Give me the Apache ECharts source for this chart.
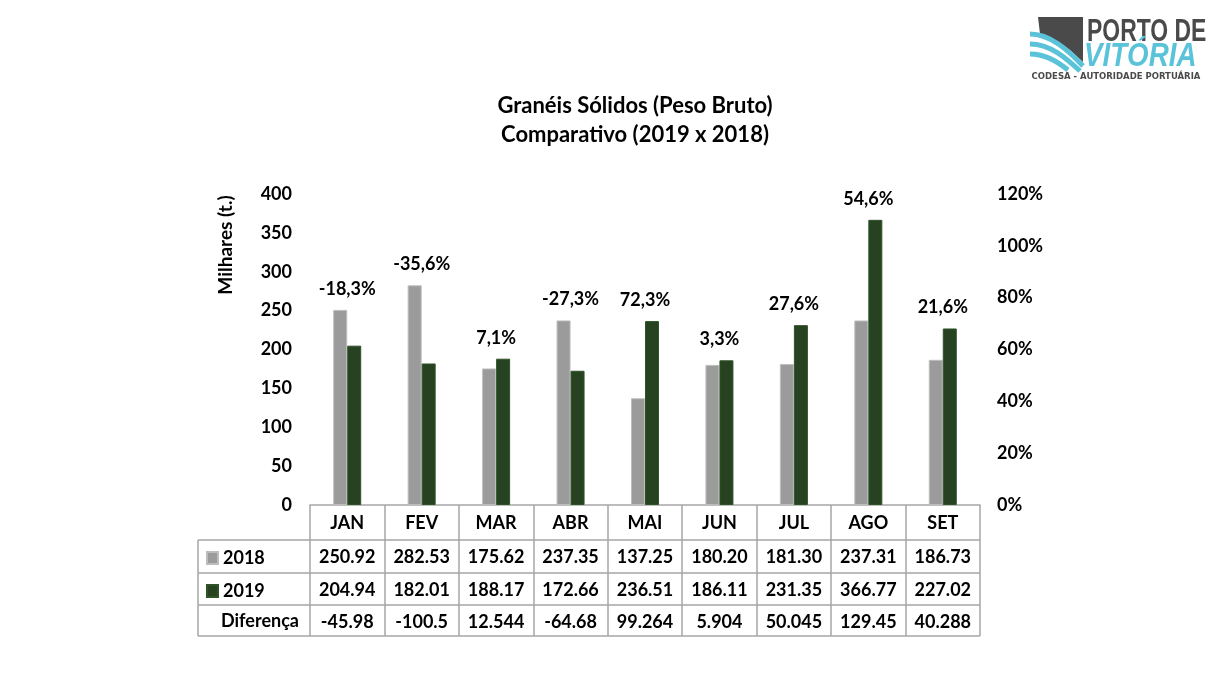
<!DOCTYPE html>
<html>
<head>
<meta charset="utf-8">
<script src="https://cdn.jsdelivr.net/npm/echarts@6/dist/echarts.min.js"></script>
<style>
html, body { margin: 0; padding: 0; background: #fff; }
#chart { width: 1222px; height: 689px; }
</style>
</head>
<body>
<div id="chart"></div>
<script>
var meses = ['JAN', 'FEV', 'MAR', 'ABR', 'MAI', 'JUN', 'JUL', 'AGO', 'SET'];
var v2018 = [250.92, 282.53, 175.62, 237.35, 137.25, 180.20, 181.30, 237.31, 186.73];
var v2019 = [204.94, 182.01, 188.17, 172.66, 236.51, 186.11, 231.35, 366.77, 227.02];
var diferenca = ['-45.98', '-100.5', '12.544', '-64.68', '99.264', '5.904', '50.045', '129.45', '40.288'];
var variacao = [-18.3, -35.6, 7.1, -27.3, 72.3, 3.3, 27.6, 54.6, 21.6];

var fonte = 'Lato, "Open Sans", sans-serif';
var cinza = '#a6a6a6';
var negrito = { fontFamily: fonte, fontSize: 18, fontWeight: 'bold', color: '#000' };

var myChart = echarts.init(document.getElementById('chart'));

// topo do grupo = maior das duas barras, para posicionar o rótulo %
var topos = [];
for (var i = 0; i < meses.length; i++) {
	topos.push(Math.max(v2018[i], v2019[i]));
}

var option = {
	backgroundColor: '#fff',
	animation: false,
	textStyle: { fontFamily: fonte },
	title: {
		text: 'Granéis Sólidos (Peso Bruto)\nComparativo (2019 x 2018)',
		left: 630,
		top: 86,
		textAlign: 'center',
		textStyle: { fontFamily: fonte, fontSize: 22, fontWeight: 'bold', color: '#000', lineHeight: 29 }
	},
	legend: {
		data: ['2018', '2019'],
		orient: 'vertical',
		left: 201,
		top: 543,
		itemWidth: 11,
		itemHeight: 12,
		itemGap: 13,
		icon: 'rect',
		formatter: function(n) { return '{b|' + n + '}'; },
		textStyle: {
			fontFamily: fonte, fontSize: 18, fontWeight: 'bold', color: '#000', lineHeight: 20,
			rich: { b: { fontFamily: fonte, fontSize: 18, fontWeight: 'bold', color: '#000', lineHeight: 20 } }
		}
	},
	grid: { left: 310, right: 242, top: 194, bottom: 184 },
	xAxis: {
		type: 'category',
		data: meses,
		axisLine: { show: true, lineStyle: { color: cinza, width: 1.5 } },
		axisTick: { show: true, length: 131, lineStyle: { color: cinza, width: 1.5 } },
		axisLabel: {
			interval: 0,
			margin: 1,
			formatter: function(val, idx) {
				return '{m|' + val + '}\n{v|' + v2018[idx].toFixed(2) + '}\n{v|' +
					v2019[idx].toFixed(2) + '}\n{v|' + diferenca[idx] + '}';
			},
			rich: {
				m: { fontFamily: fonte, fontSize: 18, fontWeight: 'bold', color: '#000', lineHeight: 35 },
				v: { fontFamily: fonte, fontSize: 18, fontWeight: 'bold', color: '#000', lineHeight: 32.5 }
			}
		}
	},
	yAxis: [{
		type: 'value',
		min: 0,
		max: 400,
		interval: 50,
		splitLine: { show: false },
		axisLine: { show: false },
		axisTick: { show: false },
		axisLabel: { margin: 18, fontFamily: fonte, fontSize: 18, fontWeight: 'bold', color: '#000' }
	}, {
		type: 'value',
		min: 0,
		max: 1.2,
		interval: 0.2,
		splitLine: { show: false },
		axisLine: { show: false },
		axisTick: { show: false },
		axisLabel: {
			margin: 17,
			fontFamily: fonte,
			fontSize: 18,
			fontWeight: 'bold',
			color: '#000',
			formatter: function(v) { return Math.round(v * 100) + '%'; }
		}
	}],
	series: [{
		name: '2018',
		type: 'bar',
		data: v2018,
		barWidth: 14,
		barGap: '0%',
		itemStyle: { color: '#9b9b9b', borderColor: '#bdbdbd', borderWidth: 1 }
	}, {
		name: '2019',
		type: 'bar',
		data: v2019,
		barWidth: 14,
		itemStyle: { color: '#264221', borderColor: '#2f5229', borderWidth: 1 }
	}, {
		name: 'variacao',
		type: 'scatter',
		data: topos,
		symbolSize: 0,
		silent: true,
		itemStyle: { opacity: 1 },
		label: {
			show: true,
			position: 'top',
			distance: 12,
			fontFamily: fonte,
			fontSize: 18,
			fontWeight: 'bold',
			color: '#000',
			formatter: function(p) {
				return '{p|' + variacao[p.dataIndex].toFixed(1).replace('.', ',') + '%}';
			},
			rich: { p: negrito }
		}
	}],
	graphic: [
		// eixo Y (nome)
		{
			type: 'text', x: 226, y: 245, rotation: Math.PI / 2,
			style: { text: 'Milhares (t.)', font: 'bold 19px ' + fonte, fill: '#000', align: 'center', verticalAlign: 'middle' }
		},
		// linhas da tabela
		{ type: 'line', shape: { x1: 198, y1: 540, x2: 980, y2: 540 }, style: { stroke: cinza, lineWidth: 1.5 } },
		{ type: 'line', shape: { x1: 198, y1: 573, x2: 980, y2: 573 }, style: { stroke: cinza, lineWidth: 1.5 } },
		{ type: 'line', shape: { x1: 198, y1: 605, x2: 980, y2: 605 }, style: { stroke: cinza, lineWidth: 1.5 } },
		{ type: 'line', shape: { x1: 198, y1: 636, x2: 980, y2: 636 }, style: { stroke: cinza, lineWidth: 1.5 } },
		{ type: 'line', shape: { x1: 198, y1: 540, x2: 198, y2: 636 }, style: { stroke: cinza, lineWidth: 1.5 } },
		{
			type: 'text', x: 221, y: 621,
			style: { text: 'Diferença', font: 'bold 18px ' + fonte, fill: '#000', verticalAlign: 'middle' }
		},
		// logo
		{
			type: 'polygon',
			shape: { points: [[1038, 17], [1083, 17], [1083, 62], [1070, 50], [1055, 40], [1040, 34]] },
			style: { fill: '#4a4a4a' }
		},
		{
			type: 'bezierCurve',
			shape: { x1: 1030, y1: 34, cpx1: 1050, cpy1: 34, cpx2: 1068, cpy2: 50, x2: 1083, y2: 66 },
			style: { stroke: '#5bc3d9', lineWidth: 5, fill: null }
		},
		{
			type: 'bezierCurve',
			shape: { x1: 1030, y1: 44, cpx1: 1050, cpy1: 44, cpx2: 1066, cpy2: 58, x2: 1080, y2: 71 },
			style: { stroke: '#5bc3d9', lineWidth: 5, fill: null }
		},
		{
			type: 'bezierCurve',
			shape: { x1: 1030, y1: 54, cpx1: 1046, cpy1: 54, cpx2: 1058, cpy2: 62, x2: 1068, y2: 70 },
			style: { stroke: '#5bc3d9', lineWidth: 5, fill: null }
		},
		{
			type: 'text', x: 1087, y: 32, scaleX: 0.74,
			style: { text: 'PORTO DE', font: 'bold 31px "Liberation Sans", sans-serif', fill: '#4a4a4a', verticalAlign: 'middle' }
		},
		{
			type: 'text', x: 1084, y: 57, scaleX: 0.84,
			style: { text: 'VITÓRIA', font: 'italic bold 33px "Liberation Sans", sans-serif', fill: '#5bc3d9', verticalAlign: 'middle' }
		},
		{
			type: 'text', x: 1116, y: 77,
			style: { text: 'CODESA - AUTORIDADE PORTUÁRIA', font: 'bold 8.5px "DejaVu Sans", sans-serif', fill: '#4a4a4a', align: 'center', verticalAlign: 'middle' }
		}
	]
};

myChart.setOption(option);
</script>
</body>
</html>
